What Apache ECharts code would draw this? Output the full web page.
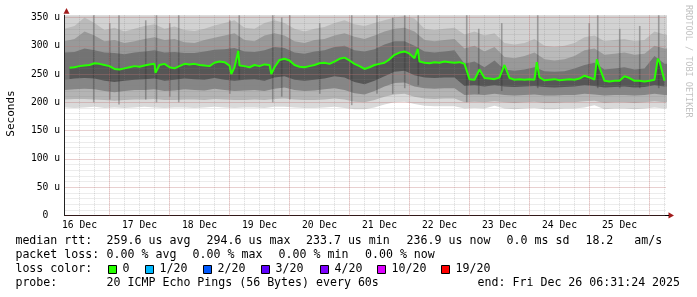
<!DOCTYPE html>
<html>
<head>
<meta charset="utf-8">
<script src="https://cdn.jsdelivr.net/npm/echarts@6.0.0/dist/echarts.min.js"></script>
<style>
html,body{margin:0;padding:0;background:#ffffff;}
#chart{width:697px;height:297px;}
</style>
</head>
<body>
<div id="chart"></div>
<script>
// ---------- axis / time data (hours since 16 Dec 00:00) ----------
const startHour = 6.5233;   // 16 Dec 06:31:24
const endHour = 246.5233;   // 26 Dec 06:31:24
const dayLabels = ['16 Dec','17 Dec','18 Dec','19 Dec','20 Dec','21 Dec','22 Dec','23 Dec','24 Dec','25 Dec'];
const dayLabelHours = [12,36,60,84,108,132,156,180,204,228];
const midnightHours = [24,48,72,96,120,144,168,192,216,240];
const yUnit = 'u';

// ---------- median rtt (us), every 2 h from 16 Dec 08:00 ----------
const medianStartHour = 8, medianStepHours = 2;
const medianRtt = [
  261,262,264,265,266,269,268,266,264,259,
  258,260,262,264,263,265,267,268,266,268,
  262,260,264,268,267,268,266,265,264,270,
  272,271,265,262,265,264,262,266,264,267,
  266,262,275,277,274,266,263,262,264,266,
  269,270,268,272,277,279,274,268,264,259,
  262,266,268,270,276,284,288,290,286,278,
  272,270,269,271,270,272,271,270,271,268,
  241,240,258,243,242,241,244,266,243,240,
  241,240,241,240,244,239,240,241,239,240,
  241,240,242,247,244,240,262,238,237,238,
  238,246,243,238,238,237,238,240,272,238
];
// short single-sample excursions of the median: [hour, us]
const medianSpikes = [
  [42.40,252],[72.72,250],[75.52,291],[88.72,250],[147.32,294.6],
  [194.92,271],[218.92,276],[243.32,277]
];

// ---------- smoke bands (us), every 4 h from 16 Dec 06:00 ----------
const smokeStartHour = 6, smokeStepHours = 4;
const smokeMax = [
  372,380,395,388,370,376,368,374,380,386,372,378,370,368,374,382,386,392,376,372,
  386,394,388,374,368,372,378,386,392,382,378,386,394,400,402,396,372,370,374,376,
  366,370,364,368,360,358,362,366,358,356,358,362,370,372,362,364,366,362,364,376,370,370
];
const smokeU3 = [
  330,335,350,340,328,332,325,330,335,338,330,334,328,326,330,336,340,345,332,330,
  340,345,340,330,325,330,333,340,345,338,335,340,345,350,352,348,330,328,330,332,
  320,325,318,322,305,302,305,312,300,298,300,305,315,318,308,310,312,308,310,325,320,320
];
const smokeU2 = [
  308,312,325,318,308,310,305,308,312,315,310,312,306,305,310,314,318,322,310,308,
  318,322,318,308,305,310,312,318,322,316,312,318,325,330,332,325,310,308,310,312,
  295,300,290,298,280,278,282,288,276,274,276,282,292,295,284,286,288,284,286,300,295,295
];
const smokeU1 = [
  288,289,295,292,288,287,285,288,290,292,288,289,287,287,290,293,294,296,290,289,
  292,298,296,288,286,290,292,298,300,292,290,294,302,308,308,300,290,288,290,292,
  268,272,262,274,258,256,258,262,255,254,255,260,266,270,258,260,262,258,260,282,268,268
];
const smokeL1 = [
  240,242,243,242,238,236,238,240,241,242,238,240,242,241,240,243,240,238,240,241,
  238,244,246,240,238,240,242,246,244,236,232,238,246,254,256,248,244,243,244,244,
  229,230,228,230,228,227,228,229,227,226,227,228,230,229,226,227,228,226,227,230,228,228
];
const smokeL2 = [
  222,223,224,223,220,218,220,222,222,223,220,221,223,222,221,224,222,220,221,222,
  220,224,226,222,220,221,223,225,222,216,214,220,228,234,235,228,225,224,225,225,
  213,214,213,215,213,212,213,214,212,212,213,213,215,214,212,213,213,212,213,215,213,213
];
const smokeL3 = [
  205,206,206,205,204,203,204,205,205,206,204,204,205,205,204,206,205,204,204,205,
  204,206,207,205,204,204,205,207,205,201,200,204,210,214,215,210,207,206,207,207,
  200,201,200,202,200,199,200,201,199,199,200,200,202,203,199,200,200,199,200,202,200,200
];
const smokeMin = [
  191,190,191,192,190,191,190,191,192,191,190,191,191,190,191,192,191,190,191,191,
  190,192,192,191,190,190,191,192,190,188,188,191,196,200,201,197,194,193,193,193,
  189,190,189,194,189,188,189,190,188,188,189,189,191,195,188,189,189,188,189,191,189,189
];
// brief spread bursts: [hour, low us, high us]
const streaks = [
  [17.7,200,354],[24.1,205,340],[27.8,196,354],[38.5,205,345],[42.8,200,354],
  [48.1,210,340],[51.7,200,354],[72.1,215,345],[75.9,240,354],[89.3,200,354],
  [92.9,210,350],[96.1,205,354],[108.1,215,340],[120.9,195,354],[131.0,215,354],
  [137.3,215,350],[142.1,225,354],[147.5,230,354],[166.9,200,354],[171.7,215,330],
  [180.9,220,340],[195.3,225,354],[215.9,230,340],[219.3,225,354],[228.1,225,330],
  [236.1,225,335],[243.7,225,354]
];

// ---------- legend texts ----------
const lossLabels = ['0','1/20','2/20','3/20','4/20','10/20','19/20'];
const lossColors = ['#26ff00','#00b8ff','#0059ff','#5e00ff','#7e00ff','#dd00ff','#ff0000'];
const rttStats = ['259.6 us avg','294.6 us max','233.7 us min','236.9 us now','0.0 ms sd','18.2','am/s'];
const lossStats = ['0.00 % avg','0.00 % max','0.00 % min','0.00 % now'];
const rowTitles = ['median rtt:','packet loss:','loss color:','probe:'];
const probeText = '20 ICMP Echo Pings (56 Bytes) every 60s';
const endText = 'end: Fri Dec 26 06:31:24 2025';
const yAxisTitle = 'Seconds';
const watermark = 'RRDTOOL / TOBI OETIKER';

// ---------- build ----------
const MONO = '"DejaVu Sans Mono", monospace';
const pairs = (arr, t0, step) => arr.map((v, i) => [t0 + i * step, v]);
const medianPairs = pairs(medianRtt, medianStartHour, medianStepHours)
  .concat(medianSpikes).sort((a, b) => a[0] - b[0]);

const bandLayers = [
  [pairs(smokeMax, smokeStartHour, smokeStepHours), '#d2d2d2'],
  [pairs(smokeU3, smokeStartHour, smokeStepHours), '#bababa'],
  [pairs(smokeU2, smokeStartHour, smokeStepHours), '#999999'],
  [pairs(smokeU1, smokeStartHour, smokeStepHours), '#737373'],
  [medianPairs, '#565656'],
  [pairs(smokeL1, smokeStartHour, smokeStepHours), '#868686'],
  [pairs(smokeL2, smokeStartHour, smokeStepHours), '#b4b4b4'],
  [pairs(smokeL3, smokeStartHour, smokeStepHours), '#d9d9d9'],
  [pairs(smokeMin, smokeStartHour, smokeStepHours), '#ffffff']
];

const series = bandLayers.map(([data, color]) => ({
  type: 'line', data, symbol: 'none', silent: true, z: 2,
  lineStyle: { width: 0 }, areaStyle: { color, opacity: 1 }
}));

series.push({
  type: 'custom', data: streaks, silent: true, z: 3,
  encode: { x: 0, y: [1, 2] },
  renderItem(params, api) {
    const top = api.coord([api.value(0), api.value(2)]);
    const bot = api.coord([api.value(0), api.value(1)]);
    return { type: 'rect',
      shape: { x: top[0] - 0.8, y: top[1], width: 1.6, height: bot[1] - top[1] },
      style: { fill: 'rgba(50,50,50,0.35)' } };
  }
});

const majorColor = 'rgba(225,110,110,0.45)';
const minorColor = 'rgba(130,130,130,0.30)';

series.push({
  type: 'line', data: medianPairs, symbol: 'none', silent: true, z: 8,
  lineStyle: { color: '#26ff00', width: 2 },
  markLine: {
    silent: true, symbol: ['none', 'none'], label: { show: false }, z: 7,
    lineStyle: { color: majorColor, width: 1, type: [1, 1] },
    emphasis: { disabled: true },
    data: midnightHours.map(h => ({ xAxis: h }))
  }
});

const minorGrid = { show: true, showMaxLine: false, lineStyle: { color: minorColor, width: 1, type: [1, 1] } };
const majorGrid = { show: true, showMaxLine: false, lineStyle: { color: majorColor, width: 1, type: [1, 1] } };

const labelFmt = v => {
  const k = Math.round((v - 12) / 24);
  return (Math.abs(v - dayLabelHours[0] - 24 * k) < 1e-6 && dayLabels[k]) ? dayLabels[k] : '';
};

// legend graphics
const graphics = [];
const txt = (x, y, text, extra) => graphics.push(Object.assign({
  type: 'text', x, y, silent: true,
  style: { text, font: '11.6px ' + MONO, fill: '#000', textAlign: 'left', textVerticalAlign: 'middle' }
}, extra || {}));
const rowY = [241, 255, 269.3, 283.3];
rowTitles.forEach((t, i) => txt(15.4, rowY[i], t));
const rttX = [106.6, 206.6, 306, 406.6, 506.6, 585.4, 634.3];
rttStats.forEach((t, i) => txt(rttX[i], rowY[0], t));
const lossX = [106.6, 192.6, 278.6, 365];
lossStats.forEach((t, i) => txt(lossX[i], rowY[1], t));
const boxX = [108.5, 145.5, 203.5, 261.5, 320.5, 377.5, 441.5];
lossLabels.forEach((t, i) => {
  graphics.push({ type: 'rect', silent: true, shape: { x: boxX[i], y: 265.5, width: 8, height: 8 },
    style: { fill: lossColors[i], stroke: '#000', lineWidth: 1 } });
  txt(boxX[i] + 14, rowY[2], t);
});
txt(106.6, rowY[3], probeText);
txt(477.6, rowY[3], endText);
// axis title and watermark
graphics.push({ type: 'text', x: 11.2, y: 113.5, rotation: Math.PI / 2, silent: true,
  style: { text: yAxisTitle, font: '11px ' + MONO, fill: '#000', textAlign: 'center', textVerticalAlign: 'middle' } });
graphics.push({ type: 'text', x: 688, y: 5, rotation: -Math.PI / 2, silent: true,
  style: { text: watermark, font: '8.5px ' + MONO, fill: '#c2c2c2', textAlign: 'left', textVerticalAlign: 'middle' } });
// axis arrows
graphics.push({ type: 'polygon', silent: true, z: 20, shape: { points: [[63.5, 13.8], [69.5, 13.8], [66.5, 8]] }, style: { fill: '#a11b1b' } });
graphics.push({ type: 'polygon', silent: true, z: 20, shape: { points: [[668.5, 212.3], [668.5, 218.5], [674, 215.4]] }, style: { fill: '#a11b1b' } });
graphics.push({ type: 'line', silent: true, z: 20, shape: { x1: 665, y1: 215.5, x2: 669, y2: 215.5 }, style: { stroke: '#000', lineWidth: 1 } });

const chart = echarts.init(document.getElementById('chart'), null, { renderer: 'canvas' });
chart.setOption({
  animation: false,
  backgroundColor: '#ffffff',
  grid: { left: 64.5, right: 31.2, top: 15.2, bottom: 81.5, containLabel: false, outerBoundsMode: 'none' },
  xAxis: [{
    type: 'value', min: 6, max: endHour, interval: 6, z: 5,
    axisLine: { show: true, onZero: false, lineStyle: { color: '#000', width: 1 } },
    axisTick: { show: false },
    splitLine: minorGrid,
    axisLabel: { show: true, formatter: labelFmt, margin: 4.5, color: '#000', fontFamily: MONO, fontSize: 9.7,
      showMinLabel: true, showMaxLabel: false }
  }],
  yAxis: [{
    type: 'value', min: 0, max: 354, interval: 10, z: 5, position: 'left',
    axisLine: { show: false }, axisTick: { show: false }, axisLabel: { show: false },
    splitLine: minorGrid
  }, {
    type: 'value', min: 0, max: 354, interval: 50, z: 6, position: 'left', offset: 0,
    axisLine: { show: true, onZero: false, lineStyle: { color: '#222', width: 1 } },
    axisTick: { show: false },
    splitLine: majorGrid,
    axisLabel: { show: true, showMaxLabel: false, margin: 4.4, color: '#000', fontFamily: MONO, fontSize: 9.7,
      formatter: v => v === 0 ? '0  ' : v + ' ' + yUnit }
  }],
  series,
  graphic: { elements: graphics }
});
</script>
</body>
</html>
